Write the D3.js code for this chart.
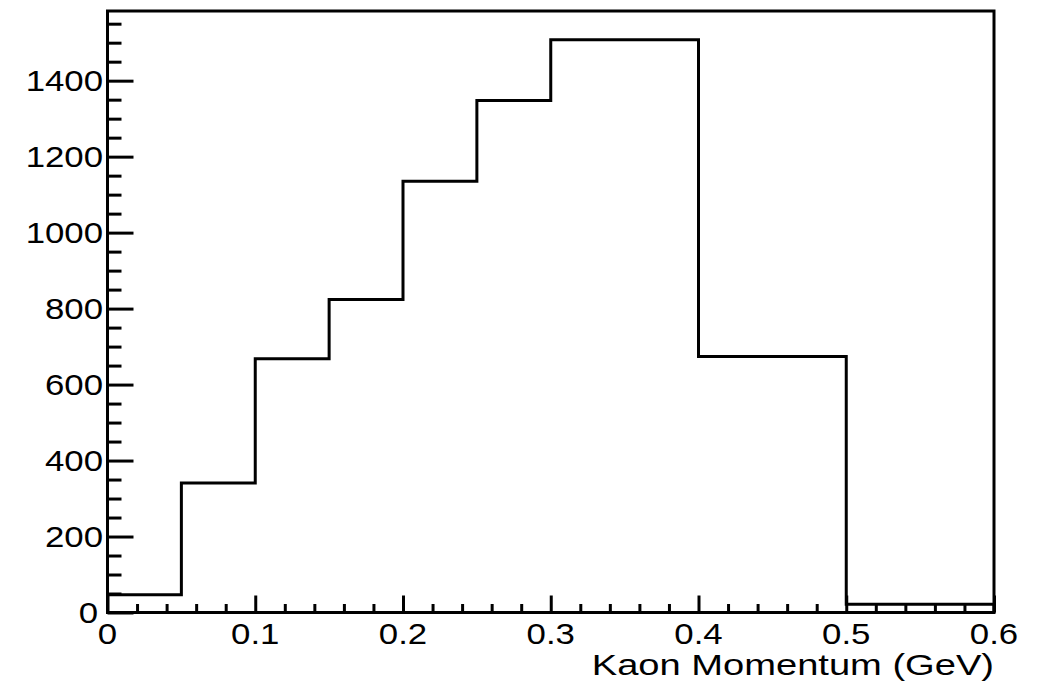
<!DOCTYPE html>
<html>
<head>
<meta charset="utf-8">
<script src="https://cdn.jsdelivr.net/npm/d3@7"></script>
<style>
  html, body { margin: 0; padding: 0; background: #fff; }
  svg { display: block; }
  text { font-family: "Liberation Sans", Arial, Helvetica, sans-serif; fill: #000; }
</style>
</head>
<body>
<svg id="chart" width="1041" height="685"></svg>
<script>
// Histogram of kaon momentum (variable-width bins)
const binEdges = [0, 0.05, 0.1, 0.15, 0.2, 0.25, 0.3, 0.4, 0.5, 0.6];
const binCounts = [47, 341, 668, 824, 1135, 1348, 1508, 674, 22];
const xMajorTicks = [0, 0.1, 0.2, 0.3, 0.4, 0.5, 0.6];
const xTickLabels = ["0", "0.1", "0.2", "0.3", "0.4", "0.5", "0.6"];
const yMajorTicks = [0, 200, 400, 600, 800, 1000, 1200, 1400];
const yTickLabels = ["0", "200", "400", "600", "800", "1000", "1200", "1400"];
const xTitle = "Kaon Momentum (GeV)";

const svg = d3.select("#chart");
const frame = { left: 107.5, right: 994, top: 11, bottom: 612.5 };
const yMax = 1.05 * d3.max(binCounts);

const x = d3.scaleLinear().domain([0, 0.6]).range([frame.left, frame.right]);
const y = d3.scaleLinear().domain([0, yMax]).range([frame.bottom, frame.top]);

const fontSize = 30;
const lw = 3;

// minor tick positions
const xMinor = d3.range(0, 0.6 + 1e-9, 0.02).filter(v => !xMajorTicks.some(m => Math.abs(m - v) < 1e-9));
const yMinor = d3.range(0, yMax, 50).filter(v => v % 200 !== 0);

// x axis ticks (pointing into the frame)
const gx = svg.append("g").attr("transform", `translate(0,${frame.bottom})`);
gx.call(d3.axisBottom(x).tickValues(xMinor).tickSize(-8.5).tickFormat("").tickSizeOuter(0));
const gx2 = svg.append("g").attr("transform", `translate(0,${frame.bottom})`);
gx2.call(d3.axisBottom(x).tickValues(xMajorTicks).tickSize(-17).tickFormat("").tickSizeOuter(0));

// y axis ticks
const gy = svg.append("g").attr("transform", `translate(${frame.left},0)`);
gy.call(d3.axisLeft(y).tickValues(yMinor).tickSize(-14).tickFormat("").tickSizeOuter(0));
const gy2 = svg.append("g").attr("transform", `translate(${frame.left},0)`);
gy2.call(d3.axisLeft(y).tickValues(yMajorTicks).tickSize(-26).tickFormat("").tickSizeOuter(0));

svg.selectAll(".domain").remove();
svg.selectAll(".tick line").attr("stroke", "#000").attr("stroke-width", lw);

// histogram outline
const pts = [[binEdges[0], 0]];
binCounts.forEach((c, i) => {
  pts.push([binEdges[i], c]);
  pts.push([binEdges[i + 1], c]);
});
pts.push([binEdges[binEdges.length - 1], 0]);
svg.append("path")
  .attr("d", d3.line().x(d => x(d[0])).y(d => y(d[1]))(pts))
  .attr("fill", "none")
  .attr("stroke", "#000")
  .attr("stroke-width", lw)
  .attr("stroke-linejoin", "miter");

// frame
svg.append("rect")
  .attr("x", frame.left).attr("y", frame.top)
  .attr("width", frame.right - frame.left).attr("height", frame.bottom - frame.top)
  .attr("fill", "none").attr("stroke", "#000").attr("stroke-width", lw);

function label(px, py, str, anchor, stretch) {
  svg.append("g")
    .attr("transform", `translate(${px},${py}) scale(${stretch},1)`)
    .append("text")
    .attr("text-anchor", anchor)
    .attr("font-size", fontSize)
    .text(str);
}

// x tick labels
xMajorTicks.forEach((v, i) => label(x(v), 644, xTickLabels[i], "middle", 1.16));

// y tick labels
yMajorTicks.forEach((v, i) => {
  const right = v === 0 ? 98 : 103;
  label(right, y(v) + 0.358 * fontSize, yTickLabels[i], "end", 1.16);
});

// axis title
label(frame.right, 675, xTitle, "end", 1.27);
</script>
</body>
</html>
